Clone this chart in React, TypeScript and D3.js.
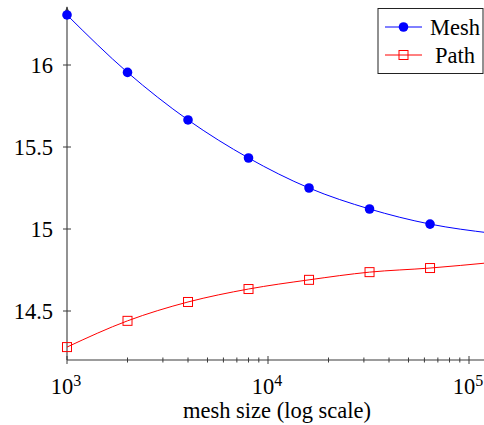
import React from "react";
import * as d3 from "d3";

// chart values
const meshSizes = [1000, 2000, 4000, 8000, 16000, 32000, 64000, 128000];
const meshValues = [16.305, 15.955, 15.665, 15.433, 15.25, 15.122, 15.03, 14.975];
const pathValues = [14.28, 14.44, 14.555, 14.634, 14.69, 14.737, 14.762, 14.795];
const yTicks = [14.5, 15, 15.5, 16];
const xMajorTicks = [1000, 10000, 100000];
const seriesNames = ["Mesh", "Path"];
const xLabel = "mesh size (log scale)";

const W = 484;
const H = 425;
const FAM = "Liberation Serif";
const fs = 22.5;
const supFs = 16;
const axisColor = "#3a3a3a";
const colors = ["#0000ff", "#ff0000"];

// Times-style advance widths (em) so text can be placed without text-anchor
const adv: Record<string, number> = {
    "0": 0.5, "1": 0.5, "2": 0.5, "3": 0.5, "4": 0.5, "5": 0.5, "6": 0.5,
    "7": 0.5, "8": 0.5, "9": 0.5, ".": 0.25, " ": 0.25, "(": 0.333, ")": 0.333,
    M: 0.889, P: 0.556, a: 0.444, c: 0.444, e: 0.444, g: 0.5, h: 0.5, i: 0.278,
    l: 0.278, m: 0.778, o: 0.5, s: 0.389, t: 0.278, z: 0.444,
};
const textW = (s: string, size: number) =>
    s.split("").reduce((acc, ch) => acc + (adv[ch] ?? 0.5), 0) * size;

const x = d3.scaleLog().domain([1000, 100000]).range([67, 469]);
const y = d3.scaleLinear().domain([14.5, 16]).range([311, 65]);
const yBottom = 360;
const xLeft = x(1000);

// minor ticks 2..9 per decade, within the visible width
const minorTicks: number[] = [];
xMajorTicks.forEach((dec) => {
    for (let k = 2; k <= 9; k++) if (dec * k <= x.invert(W)) minorTicks.push(dec * k);
});

const line = d3
    .line<number>()
    .x((d, i) => x(meshSizes[i]))
    .y((d) => y(d))
    .curve(d3.curveMonotoneX);

const App = () => {
    return (
        <svg width={W} height={H} style={{ position: "absolute", left: 0, top: 0 }}>
            <rect x={0} y={0} width={W} height={H} fill="white" />
            <defs>
                <marker id="arrow" viewBox="0 0 10 10" refX={9} refY={5}
                    markerWidth={6} markerHeight={6} orient="auto">
                    <path d="M0,1 L10,5 L0,9 z" fill={axisColor} />
                </marker>
            </defs>

            {/* axes */}
            <line x1={xLeft} x2={xLeft} y1={yBottom} y2={7} stroke={axisColor}
                strokeWidth={1.1} markerEnd="url(#arrow)" />
            <line x1={xLeft} x2={W + 5} y1={yBottom} y2={yBottom} stroke={axisColor}
                strokeWidth={1.1} />

            {yTicks.map((t) => {
                const s = String(t);
                return (
                    <g key={t}>
                        <line x1={xLeft - 4} x2={xLeft + 4} y1={y(t)} y2={y(t)} stroke={axisColor} />
                        <text x={xLeft - 14 - textW(s, fs)} y={y(t) + 7.7}
                            fontFamily={FAM} fontSize={fs}>
                            {s}
                        </text>
                    </g>
                );
            })}

            {minorTicks.map((t) => (
                <line key={t} x1={x(t)} x2={x(t)} y1={yBottom - 2.5} y2={yBottom + 2.5}
                    stroke={axisColor} />
            ))}

            {xMajorTicks.map((t) => {
                const exp = String(Math.round(Math.log10(t)));
                const w = textW("10", fs) + textW(exp, supFs);
                return (
                    <g key={t}>
                        <line x1={x(t)} x2={x(t)} y1={yBottom - 4} y2={yBottom + 4} stroke={axisColor} />
                        <text x={x(t) - 1 - w / 2} y={394} fontFamily={FAM} fontSize={fs}>
                            10
                        </text>
                        <text x={x(t) - 1 - w / 2 + textW("10", fs)} y={386}
                            fontFamily={FAM} fontSize={supFs}>
                            {exp}
                        </text>
                    </g>
                );
            })}

            <text x={277 - textW(xLabel, fs) / 2} y={418} fontFamily={FAM} fontSize={fs}>
                {xLabel}
            </text>

            {/* series */}
            <path d={line(meshValues) || ""} fill="none" stroke={colors[0]} strokeWidth={1} />
            <path d={line(pathValues) || ""} fill="none" stroke={colors[1]} strokeWidth={1} />

            {meshValues.slice(0, 7).map((v, i) => (
                <circle key={i} cx={x(meshSizes[i])} cy={y(v)} r={4.8} fill={colors[0]} />
            ))}
            {pathValues.slice(0, 7).map((v, i) => (
                <rect key={i} x={x(meshSizes[i]) - 4.5} y={y(v) - 4.5} width={9} height={9}
                    fill="none" stroke={colors[1]} strokeWidth={1} />
            ))}

            {/* legend */}
            <rect x={378} y={8.5} width={105} height={65} fill="white" stroke="#222" strokeWidth={1} />
            {seriesNames.map((name, i) => {
                const cy = 27 + i * 28;
                return (
                    <g key={name}>
                        <line x1={385} x2={422} y1={cy} y2={cy} stroke={colors[i]} strokeWidth={1} />
                        {i === 0 ? (
                            <circle cx={403.5} cy={cy} r={4.8} fill={colors[i]} />
                        ) : (
                            <rect x={399} y={cy - 4.5} width={9} height={9} fill="none" stroke={colors[i]} />
                        )}
                        <text x={455 - textW(name, fs) / 2} y={cy + 7.7} fontFamily={FAM} fontSize={fs}>
                            {name}
                        </text>
                    </g>
                );
            })}
        </svg>
    );
};

export default App;
